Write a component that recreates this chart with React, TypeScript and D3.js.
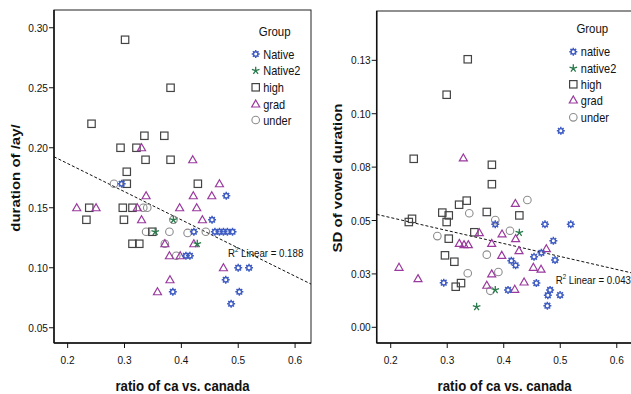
import React from "react";
import * as d3 from "d3";

type Pt = [number, number];

// group keys and legend labels
const groups = ["native", "native2", "high", "grad", "under"];
const leftLegend = ["Native", "Native2", "high", "grad", "under"];
const rightLegend = ["native", "native2", "high", "grad", "under"];

// left chart: duration of /ay/ vs ratio
const leftHigh: Pt[] = [
  [0.301, 0.29], [0.381, 0.25], [0.242, 0.22], [0.335, 0.21], [0.37, 0.21],
  [0.293, 0.2], [0.321, 0.2], [0.337, 0.19], [0.381, 0.19], [0.304, 0.18],
  [0.304, 0.17], [0.429, 0.17], [0.238, 0.15], [0.297, 0.15], [0.314, 0.15],
  [0.233, 0.14], [0.299, 0.14], [0.349, 0.13], [0.314, 0.12], [0.326, 0.12],
];
const leftGrad: Pt[] = [
  [0.33, 0.2], [0.42, 0.19], [0.467, 0.17], [0.338, 0.16], [0.421, 0.16],
  [0.4535, 0.16], [0.216, 0.15], [0.25, 0.15], [0.3225, 0.15], [0.397, 0.15],
  [0.427, 0.15], [0.33, 0.14], [0.437, 0.14], [0.371, 0.12], [0.422, 0.12],
  [0.379, 0.11], [0.398, 0.11], [0.474, 0.1], [0.38, 0.09], [0.358, 0.08],
];
const leftUnder: Pt[] = [
  [0.2815, 0.17], [0.333, 0.15], [0.34, 0.15], [0.386, 0.14], [0.338, 0.13],
  [0.379, 0.13], [0.411, 0.129], [0.443, 0.13], [0.371, 0.12], [0.391, 0.11],
];
const leftNative: Pt[] = [
  [0.295, 0.17], [0.479, 0.16], [0.454, 0.14], [0.422, 0.13], [0.459, 0.13],
  [0.467, 0.13], [0.474, 0.13], [0.481, 0.13], [0.49, 0.13], [0.408, 0.11],
  [0.415, 0.11], [0.5, 0.1], [0.519, 0.1], [0.478, 0.09], [0.385, 0.08],
  [0.502, 0.08], [0.4875, 0.07],
];
const leftNative2: Pt[] = [[0.386, 0.14], [0.354, 0.13], [0.428, 0.12]];
const leftYTicks = [0.05, 0.1, 0.15, 0.2, 0.25, 0.3];
const leftYTickLabels = ["0.05", "0.10", "0.15", "0.20", "0.25", "0.30"];
const leftFit = { intercept: 0.2338, slope: -0.2347, label: "0.188" };

// right chart: SD of vowel duration vs ratio
const rightHigh: Pt[] = [
  [0.3363, 0.1255], [0.299, 0.1089], [0.2407, 0.0789], [0.379, 0.0761], [0.379, 0.067],
  [0.321, 0.0574], [0.3345, 0.0593], [0.2913, 0.0537], [0.3027, 0.0524], [0.37, 0.054],
  [0.4276, 0.0524], [0.232, 0.0493], [0.2377, 0.0508], [0.299, 0.0493], [0.348, 0.0445],
  [0.3027, 0.0415], [0.296, 0.0337], [0.3126, 0.0307], [0.3244, 0.0207], [0.315, 0.019],
];
const rightGrad: Pt[] = [
  [0.3285, 0.0793], [0.4206, 0.058], [0.3568, 0.0443], [0.397, 0.0437], [0.421, 0.0415],
  [0.3214, 0.0393], [0.3297, 0.0387], [0.3373, 0.0387], [0.3787, 0.0393], [0.427, 0.0359],
  [0.4754, 0.0368], [0.3965, 0.0337], [0.2147, 0.0281], [0.4524, 0.0281], [0.466, 0.0272],
  [0.3787, 0.025], [0.2483, 0.0228], [0.436, 0.0212], [0.37, 0.0197], [0.4195, 0.0178],
];
const rightUnder: Pt[] = [
  [0.4418, 0.0596], [0.339, 0.0534], [0.385, 0.0502], [0.411, 0.0452], [0.2825, 0.0427],
  [0.37, 0.034], [0.3363, 0.0253], [0.3905, 0.0259], [0.3763, 0.0171],
];
const rightNative: Pt[] = [
  [0.501, 0.092], [0.385, 0.0482], [0.473, 0.0482], [0.5186, 0.0482], [0.4878, 0.0405],
  [0.4666, 0.0349], [0.4536, 0.033], [0.4135, 0.0312], [0.421, 0.029], [0.4908, 0.0315],
  [0.2938, 0.0209], [0.4577, 0.0207], [0.4076, 0.0175], [0.482, 0.0175], [0.478, 0.015],
  [0.4997, 0.0151], [0.4772, 0.0101],
];
const rightNative2: Pt[] = [[0.4276, 0.0443], [0.385, 0.0175], [0.352, 0.0096]];
const rightYTicks = [0, 0.025, 0.05, 0.075, 0.1, 0.125];
const rightYTickLabels = ["0.00", "0.03", "0.05", "0.08", "0.10", "0.13"];
const rightFit = { intercept: 0.0635, slope: -0.0607, label: "0.043" };

const xTicks = [0.2, 0.3, 0.4, 0.5, 0.6];
const xTickLabels = ["0.2", "0.3", "0.4", "0.5", "0.6"];

const FONT = "'Liberation Sans', Arial, sans-serif";
const SX = 0.88; // SPSS output looks horizontally squeezed
const colors: Record<string, string> = {
  native: "#3f5cc2",
  native2: "#2a7a4c",
  high: "#444444",
  grad: "#9a3a9e",
  under: "#8c8c8c",
};

function SText(props: { x: number; y: number; size: number; anchor?: string; bold?: boolean; children: React.ReactNode }) {
  return (
    <text
      transform={`translate(${props.x},${props.y}) scale(${SX},1)`}
      fontSize={props.size}
      textAnchor={props.anchor || "start"}
      fontWeight={props.bold ? "bold" : "normal"}
      fill="#111"
    >
      {props.children}
    </text>
  );
}

function Marker({ kind, x, y }: { kind: string; x: number; y: number }) {
  const c = colors[kind];
  if (kind === "native") {
    let d = "";
    for (let i = 0; i < 8; i++) {
      const a = (i * Math.PI) / 4;
      d += `M${(Math.cos(a) * 2.2).toFixed(2)},${(Math.sin(a) * 2.2).toFixed(2)}L${(Math.cos(a) * 4).toFixed(2)},${(Math.sin(a) * 4).toFixed(2)}`;
    }
    return (
      <g transform={`translate(${x},${y})`} stroke={c} fill="none">
        <circle r={2.2} strokeWidth={1.4} />
        <path d={d} strokeWidth={1.5} />
      </g>
    );
  }
  if (kind === "native2") {
    let d = "";
    for (let i = 0; i < 5; i++) {
      const a = -Math.PI / 2 + (i * 2 * Math.PI) / 5;
      d += `M0,0L${(Math.cos(a) * 4).toFixed(2)},${(Math.sin(a) * 4).toFixed(2)}`;
    }
    return <path transform={`translate(${x},${y})`} d={d} stroke={c} strokeWidth={1.3} fill="none" />;
  }
  if (kind === "high") {
    return <rect x={x - 3.7} y={y - 3.7} width={7.4} height={7.4} stroke={c} strokeWidth={1.2} fill="none" />;
  }
  if (kind === "grad") {
    return (
      <path
        d={`M${x},${y - 4}L${x + 4},${y + 3}L${x - 4},${y + 3}Z`}
        stroke={c}
        strokeWidth={1.2}
        fill="none"
      />
    );
  }
  return <circle cx={x} cy={y} r={3.8} stroke={c} strokeWidth={1.1} fill="none" />;
}

type PanelProps = {
  id: string;
  x0: number; x1: number; y0: number; y1: number;
  xDomain: [number, number];
  yDomain: [number, number];
  yTicks: number[];
  yTickLabels: string[];
  series: Record<string, Pt[]>;
  fit: { intercept: number; slope: number; label: string };
  fitLabelPos: [number, number];
  yTitle: string;
  yTitleX: number;
  legend: string[];
  legendX: number;
  legendTitleY: number;
  legendRows: number[];
};

function Panel(p: PanelProps) {
  const x = d3.scaleLinear().domain(p.xDomain).range([p.x0, p.x1]);
  const y = d3.scaleLinear().domain(p.yDomain).range([p.y1, p.y0]);
  const line = d3.line<number>().x((v) => x(v)).y((v) => y(p.fit.intercept + p.fit.slope * v));
  const order = ["under", "high", "grad", "native", "native2"];
  const cx = (p.x0 + p.x1) / 2;
  return (
    <g>
      <defs>
        <clipPath id={p.id}>
          <rect x={p.x0} y={p.y0} width={p.x1 - p.x0} height={p.y1 - p.y0} />
        </clipPath>
      </defs>
      <rect x={p.x0} y={p.y0} width={p.x1 - p.x0} height={p.y1 - p.y0} fill="none" stroke="#222" strokeWidth={1} />
      <line x1={p.x0} x2={p.x0} y1={p.y0} y2={p.y1} stroke="#111" strokeWidth={1.5} />
      <line x1={p.x0} x2={p.x1} y1={p.y1} y2={p.y1} stroke="#111" strokeWidth={1.5} />
      {p.yTicks.map((t, i) => (
        <g key={"yt" + i}>
          <line x1={p.x0 - 5} x2={p.x0} y1={y(t)} y2={y(t)} stroke="#111" />
          <SText x={p.x0 - 6} y={y(t) + 4} size={11.5} anchor="end">{p.yTickLabels[i]}</SText>
        </g>
      ))}
      {xTicks.map((t, i) => (
        <g key={"xt" + i}>
          <line x1={x(t)} x2={x(t)} y1={p.y1} y2={p.y1 + 5} stroke="#111" />
          <SText x={x(t)} y={p.y1 + 21} size={11.5} anchor="middle">{xTickLabels[i]}</SText>
        </g>
      ))}
      <g clipPath={`url(#${p.id})`}>
        <path d={line([p.xDomain[0], p.xDomain[1]]) || ""} stroke="#111" strokeWidth={1} strokeDasharray="3,2" fill="none" />
        {order.map((k) =>
          p.series[k].map((d, i) => <Marker key={k + i} kind={k} x={x(d[0])} y={y(d[1])} />)
        )}
      </g>
      <text
        transform={`translate(${p.fitLabelPos[0]},${p.fitLabelPos[1]}) scale(${SX},1)`}
        fontSize={11}
        fill="#111"
      >
        R<tspan fontSize={7} dy={-5}>2</tspan>
        <tspan dy={5}> Linear = {p.fit.label}</tspan>
      </text>
      {/* legend */}
      <SText x={p.legendX + 19} y={p.legendTitleY + 5} size={13} anchor="middle">Group</SText>
      {groups.map((g, i) => (
        <g key={"lg" + g}>
          <Marker kind={g} x={p.legendX} y={p.legendRows[i]} />
          <SText x={p.legendX + 7.5} y={p.legendRows[i] + 4.5} size={12.5}>{p.legend[i]}</SText>
        </g>
      ))}
      <text
        transform={`translate(${p.yTitleX},178) scale(${SX},1) rotate(-90)`}
        fontSize={15}
        fontWeight="bold"
        textAnchor="middle"
        dy="0.35em"
        fill="#111"
      >
        {p.yTitle}
      </text>
      <SText x={cx} y={391} size={15} anchor="middle" bold>ratio of ca vs. canada</SText>
    </g>
  );
}

export default function App() {
  return (
    <svg
      width={631}
      height={394}
      style={{ position: "absolute", left: 0, top: 0, background: "#fff" }}
      fontFamily={FONT}
    >
      <rect width={631} height={394} fill="#fff" />
      <Panel
        id="clipL"
        x0={54} x1={311} y0={10} y1={343}
        xDomain={[0.176, 0.628]}
        yDomain={[0.0373, 0.3148]}
        yTicks={leftYTicks}
        yTickLabels={leftYTickLabels}
        series={{ native: leftNative, native2: leftNative2, high: leftHigh, grad: leftGrad, under: leftUnder }}
        fit={leftFit}
        fitLabelPos={[228, 257]}
        yTitle="duration of /ay/"
        yTitleX={15}
        legend={leftLegend}
        legendX={255.7}
        legendTitleY={30.7}
        legendRows={[54, 70.7, 87.3, 104, 120]}
      />
      <Panel
        id="clipR"
        x0={376.7} x1={632.6} y0={11} y1={343}
        xDomain={[0.1752, 0.628]}
        yDomain={[-0.00735, 0.1481]}
        yTicks={rightYTicks}
        yTickLabels={rightYTickLabels}
        series={{ native: rightNative, native2: rightNative2, high: rightHigh, grad: rightGrad, under: rightUnder }}
        fit={rightFit}
        fitLabelPos={[555.7, 284]}
        yTitle="SD of vowel duration"
        yTitleX={337}
        legend={rightLegend}
        legendX={573.3}
        legendTitleY={28.3}
        legendRows={[51.7, 68.3, 84.3, 100, 117.3]}
      />
    </svg>
  );
}
